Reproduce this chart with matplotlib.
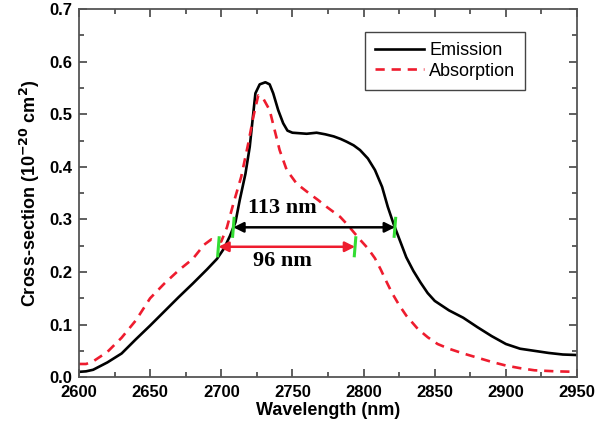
import matplotlib
matplotlib.use("Agg")
import matplotlib.pyplot as plt
from matplotlib.ticker import MultipleLocator

# emission cross-section (black solid)
em_wl = [2600, 2605, 2610, 2620, 2630, 2640, 2650, 2660, 2670, 2680, 2690, 2697,
         2702, 2706, 2710, 2713, 2717, 2720, 2722.5, 2724, 2727, 2731, 2734, 2736.5,
         2740, 2743.5, 2746.5, 2750, 2755, 2760, 2767, 2773, 2779, 2784, 2788, 2793,
         2797.5, 2803, 2808, 2813, 2817, 2821, 2825.5, 2830, 2835, 2840,
         2845, 2850, 2860, 2870, 2880, 2890, 2900, 2910, 2920, 2930, 2940, 2950]
em_val = [0.010, 0.011, 0.014, 0.028, 0.045, 0.072, 0.098, 0.125, 0.152, 0.178, 0.205, 0.225,
          0.245, 0.268, 0.295, 0.337, 0.387, 0.438, 0.502, 0.540, 0.557, 0.561, 0.557, 0.540,
          0.508, 0.483, 0.469, 0.465, 0.464, 0.463, 0.465, 0.462, 0.458, 0.453, 0.448, 0.441,
          0.432, 0.416, 0.394, 0.362, 0.324, 0.292, 0.260, 0.228, 0.202, 0.180,
          0.160, 0.145, 0.127, 0.113, 0.095, 0.078, 0.063, 0.054, 0.050, 0.046, 0.043, 0.042]

# absorption cross-section (red dashed)
ab_wl = [2600, 2605, 2610, 2620, 2630, 2640, 2650, 2660, 2670, 2680, 2688, 2693,
         2697, 2700, 2704, 2708.5, 2714, 2719, 2722.5, 2726, 2729.5, 2734, 2737.5,
         2741, 2746, 2753, 2762, 2768, 2774, 2779, 2783.5, 2788, 2793,
         2798, 2803, 2808, 2812, 2816, 2820, 2825, 2830, 2838, 2845, 2852, 2860, 2870,
         2880, 2890, 2900, 2910, 2920, 2935, 2950]
ab_val = [0.025, 0.025, 0.030, 0.048, 0.075, 0.108, 0.150, 0.178, 0.203, 0.225, 0.252, 0.262,
          0.258, 0.258, 0.285, 0.330, 0.381, 0.445, 0.495, 0.536, 0.530, 0.508, 0.470,
          0.432, 0.394, 0.368, 0.349, 0.337, 0.324, 0.314, 0.305, 0.292, 0.276,
          0.260, 0.245, 0.226, 0.205, 0.182, 0.160, 0.137, 0.117, 0.092, 0.076, 0.063, 0.054, 0.045,
          0.037, 0.029, 0.022, 0.017, 0.013, 0.011, 0.010]

# bandwidth markers: (start, end, height, label, label x, label y)
em_band = (2708.5, 2822, 0.285, "113 nm", 2743, 0.322)
ab_band = (2698, 2794, 0.248, "96 nm", 2743, 0.220)

plt.rcParams["font.family"] = ["Liberation Sans", "DejaVu Sans"]

fig = plt.figure(figsize=(5.98, 4.38), dpi=100)
ax = fig.add_axes([0.132, 0.139, 0.833, 0.840])

ax.plot(em_wl, em_val, color="black", lw=1.9, label="Emission")
ax.plot(ab_wl, ab_val, color="#ee1c2e", lw=1.9, dashes=(3.5, 2.6), label="Absorption")

green = "#33dd33"
for (x0, x1, y, txt, tx, ty), col in [(em_band, "black"), (ab_band, "#ee1c2e")]:
    ax.annotate("", xy=(x0, y), xytext=(x1, y),
                arrowprops=dict(arrowstyle="<|-|>", color=col, lw=1.8,
                                mutation_scale=15, shrinkA=0, shrinkB=0))
    for xe in (x0, x1):
        ax.plot([xe - 0.6, xe + 0.6], [y - 0.02, y + 0.02], color=green, lw=2.2,
                solid_capstyle="butt")
    ax.text(tx, ty, txt, ha="center", va="center",
            fontsize=16, fontweight="bold", family="Liberation Serif")

ax.set_xlim(2600, 2950)
ax.set_ylim(0.0, 0.7)
ax.xaxis.set_major_locator(MultipleLocator(50))
ax.xaxis.set_minor_locator(MultipleLocator(25))
ax.yaxis.set_major_locator(MultipleLocator(0.1))
ax.yaxis.set_minor_locator(MultipleLocator(0.05))
ax.yaxis.set_major_formatter(plt.FormatStrFormatter("%.1f"))
ax.tick_params(which="both", direction="in", top=True, right=True, width=1.2,
               labelsize=12, color="#444444")
ax.tick_params(which="major", length=6)
ax.tick_params(which="minor", length=3.5)
ax.tick_params(axis="x", which="major", pad=6)
ax.tick_params(axis="y", which="major", pad=5)
for lab in ax.get_xticklabels() + ax.get_yticklabels():
    lab.set_fontweight("bold")
for sp in ax.spines.values():
    sp.set_linewidth(1.3)
    sp.set_color("#555555")

ax.set_xlabel("Wavelength (nm)", fontsize=13, fontweight="bold", labelpad=1)
ax.set_ylabel(r"Cross-section (10$^{\mathbf{-20}}$ cm$^{\mathbf{2}}$)",
              fontsize=13, fontweight="bold", labelpad=5)

leg = ax.legend(loc="upper right", bbox_to_anchor=(0.896, 0.9375), borderaxespad=0,
                fontsize=13, fancybox=False, edgecolor="#444444", framealpha=1,
                handlelength=2.7, borderpad=0.55, labelspacing=0.2, handletextpad=0.3)
leg.get_frame().set_linewidth(1.0)

fig.savefig("out.png", dpi=100)
